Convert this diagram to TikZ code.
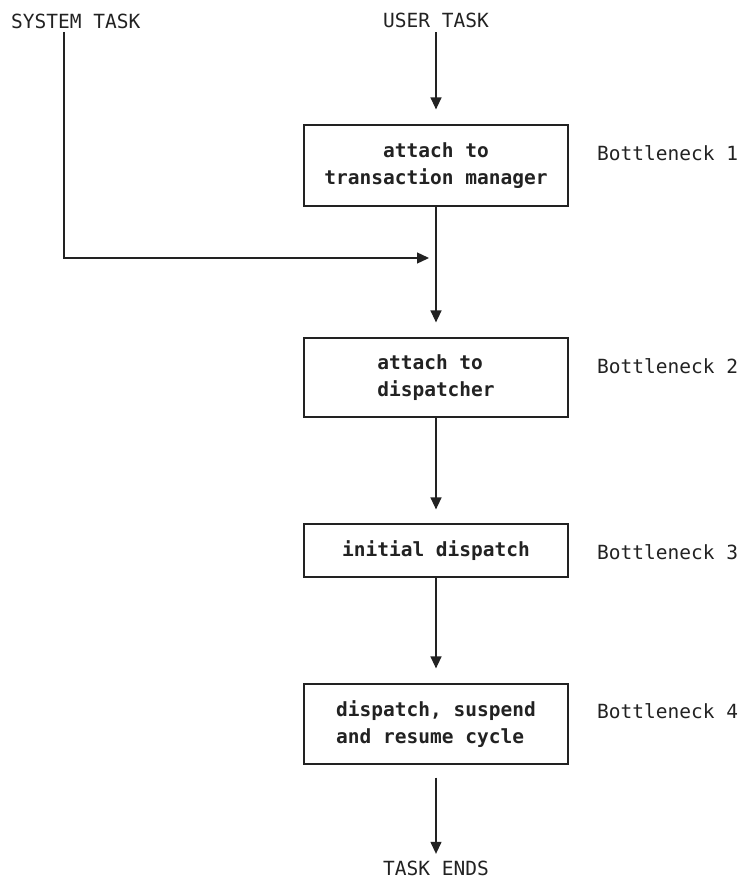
\documentclass[tikz,border=0pt]{standalone}
\usepackage{fontspec}
\setmonofont{DejaVu Sans Mono}
\usetikzlibrary{arrows.meta}
\definecolor{ink}{HTML}{222222}
\begin{document}
\begin{tikzpicture}[x=1pt,y=-1pt,
  every node/.style={font=\fontsize{19.5}{27}\selectfont\ttfamily, text=ink},
  box/.style={draw=ink, line width=1.2pt, minimum width=264pt, inner sep=0pt,
    font=\fontsize{19.5}{27}\selectfont\ttfamily\bfseries},
  lbl/.style={inner sep=0pt},
  arr/.style={draw=ink, line width=1.3pt, -{Triangle[length=12pt,width=11pt]}},
]
\useasboundingbox (0,0) rectangle (743,880);

\node[lbl, anchor=base west] (sys) at (11,29) {SYSTEM TASK};
\node[lbl, anchor=base] (user) at (436,28) {USER TASK};

\node[box, minimum height=81pt, align=center] (b1) at (436,165.5) {attach to\\transaction manager};
\node[box, minimum height=79pt, align=left] (b2) at (436,377.5) {attach to\\dispatcher};
\node[box, minimum height=53pt] (b3) at (436,550.5) {initial dispatch};
\node[box, minimum height=80pt, align=left] (b4) at (436,724) {dispatch, suspend\\and resume cycle};

\node[lbl, anchor=base west] (n1) at (597,160.5) {Bottleneck 1};
\node[lbl, anchor=base west] (n2) at (597,373) {Bottleneck 2};
\node[lbl, anchor=base west] (n3) at (597,559) {Bottleneck 3};
\node[lbl, anchor=base west] (n4) at (597,718) {Bottleneck 4};

\node[lbl, anchor=base] (ends) at (436,875.5) {TASK ENDS};

\coordinate (s0) at (64,32);
\coordinate (m) at (436,258);

\draw[arr, shorten <=4pt, shorten >=15pt] (user.south) -- (b1.north);
\draw[arr, shorten >=7pt] (s0) |- (m);
\draw[arr, shorten >=15pt] (b1) -- (b2);
\draw[arr, shorten >=14pt] (b2) -- (b3);
\draw[arr, shorten >=15pt] (b3) -- (b4);
\draw[arr, shorten <=13pt, shorten >=7pt] (b4) -- (ends);
\end{tikzpicture}
\end{document}
